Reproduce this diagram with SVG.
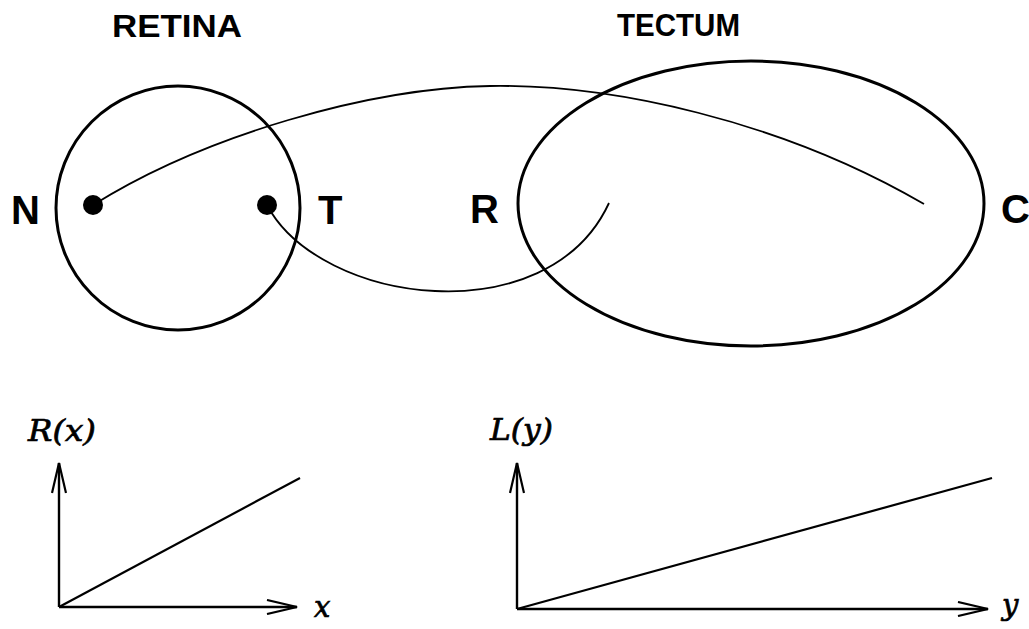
<svg xmlns="http://www.w3.org/2000/svg" width="1029" height="629" viewBox="0 0 1029 629">
<style>
.lbl{font-family:"Liberation Sans",Arial,sans-serif;font-weight:bold;fill:#000}
.math{font-family:"DejaVu Serif","Liberation Serif",serif;font-style:italic;fill:#000;stroke:#000;stroke-width:0.7}
.shape{fill:none;stroke:#000;stroke-width:3}
.fiber{fill:none;stroke:#000;stroke-width:1.8}
.axis{fill:none;stroke:#000;stroke-width:2.4}
.graph{fill:none;stroke:#000;stroke-width:2.2}
</style>
<defs>
<marker id="open" viewBox="0 0 32 16" refX="31" refY="8" markerWidth="32" markerHeight="16" markerUnits="userSpaceOnUse" orient="auto">
<path d="M1,1 L31,8 L1,15" fill="none" stroke="#000" stroke-width="2.2"/>
</marker>
</defs>
<rect width="1029" height="629" fill="#fff"/>
<g id="retina">
<circle class="shape" cx="178" cy="208" r="122"/>
<text class="lbl" x="112" y="37" font-size="31" textLength="130" lengthAdjust="spacingAndGlyphs">RETINA</text>
<text class="lbl" x="11" y="224" font-size="40">N</text>
<text class="lbl" x="318" y="224" font-size="40">T</text>
<circle id="dotN" cx="93" cy="205" r="10" fill="#000"/>
<circle id="dotT" cx="267" cy="205" r="10" fill="#000"/>
</g>
<g id="tectum">
<ellipse class="shape" cx="751" cy="203.5" rx="233" ry="142.5"/>
<text class="lbl" x="617" y="36" font-size="31" textLength="123" lengthAdjust="spacingAndGlyphs">TECTUM</text>
<text class="lbl" x="470" y="223" font-size="40">R</text>
<text class="lbl" x="1001" y="223" font-size="40">C</text>
</g>
<g id="connectors">
<path class="fiber" d="M93,205 C205,135 370,88 490,86 C610,84 780,120 924,204"/>
<path class="fiber" d="M267,205 C320,305 548,335 609,203"/>
</g>
<g id="plotR">
<text class="math" x="28" y="441" font-size="29" textLength="68" lengthAdjust="spacingAndGlyphs">R(x)</text>
<line class="axis" x1="59" y1="607" x2="59" y2="463" marker-end="url(#open)"/>
<line class="axis" x1="59" y1="607" x2="297" y2="607" marker-end="url(#open)"/>
<line class="graph" x1="59" y1="607" x2="300" y2="478"/>
<text class="math" x="314" y="617" font-size="29">x</text>
</g>
<g id="plotL">
<text class="math" x="490" y="440" font-size="29" textLength="63" lengthAdjust="spacingAndGlyphs">L(y)</text>
<line class="axis" x1="517" y1="609" x2="517" y2="463" marker-end="url(#open)"/>
<line class="axis" x1="517" y1="609" x2="988" y2="609" marker-end="url(#open)"/>
<line class="graph" x1="517" y1="609" x2="992" y2="478"/>
<text class="math" x="1002" y="615" font-size="29">y</text>
</g>
</svg>
